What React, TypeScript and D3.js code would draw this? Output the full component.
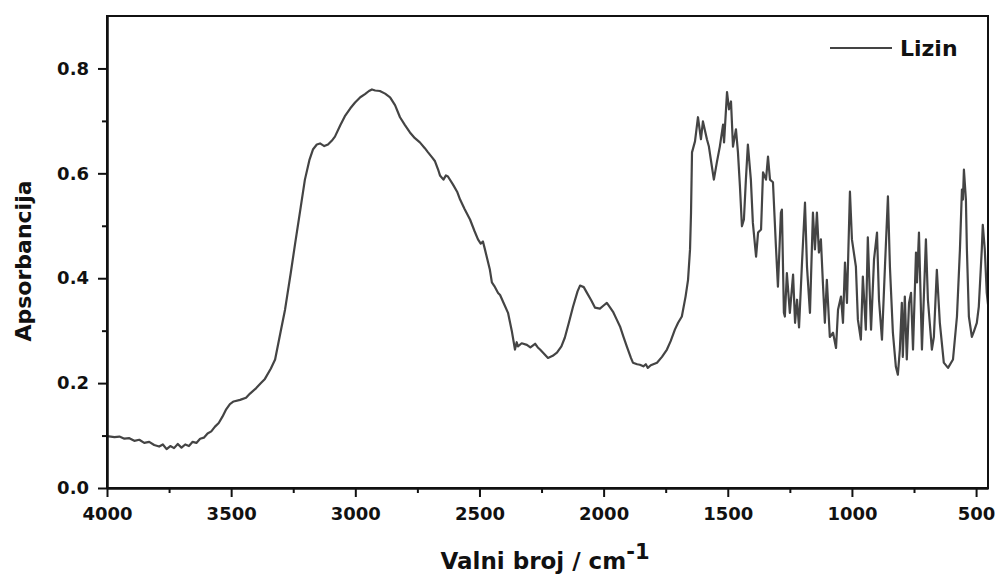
import { useEffect, useRef } from "react";
import * as d3 from "d3";

// spectrum (wavenumber cm-1 -> absorbance)
const wavenumbers = [
  4000, 3970, 3950, 3930, 3910, 3890, 3870, 3850, 3830, 3810, 3790, 3775, 3760, 3745, 3730, 3715, 3700, 3685,
  3670, 3655, 3640, 3625, 3610, 3595, 3580, 3565, 3550, 3535, 3520, 3505, 3490, 3464, 3440, 3424, 3400, 3380,
  3364, 3340, 3323, 3300, 3283, 3260, 3243, 3220, 3203, 3185, 3170, 3155, 3142, 3125, 3110, 3095, 3082, 3060,
  3042, 3020, 3001, 2980, 2961, 2945, 2933, 2920, 2901, 2880, 2860, 2840, 2820, 2800, 2780, 2760, 2740, 2720,
  2707, 2690, 2679, 2665, 2659, 2645, 2635, 2627, 2607, 2590, 2578, 2560, 2538, 2520, 2506, 2495, 2486, 2478,
  2458, 2450, 2440, 2425, 2417, 2400, 2385, 2370, 2357, 2350, 2345, 2330, 2309, 2295, 2276, 2265, 2256, 2240,
  2224, 2205, 2188, 2170, 2156, 2140, 2123, 2105, 2095, 2080, 2067, 2050, 2035, 2015, 2000, 1987, 1975, 1962,
  1948, 1934, 1920, 1906, 1890, 1882, 1865, 1854, 1840, 1830, 1822, 1810, 1800, 1785, 1765, 1745, 1730, 1713,
  1700, 1685, 1670, 1660, 1652, 1648, 1644, 1632, 1620, 1608, 1600, 1584, 1576, 1564, 1556, 1544, 1532, 1519,
  1515, 1503, 1495, 1487, 1479, 1467, 1459, 1451, 1443, 1435, 1427, 1419, 1407, 1399, 1386, 1378, 1366, 1358,
  1346, 1338, 1330, 1318, 1306, 1298, 1286, 1282, 1274, 1270, 1262, 1250, 1237, 1229, 1221, 1213, 1201, 1189,
  1181, 1169, 1157, 1149, 1141, 1133, 1125, 1117, 1109, 1101, 1089, 1076, 1064, 1056, 1044, 1036, 1028, 1020,
  1008, 1000, 984, 976, 964, 956, 944, 936, 923, 911, 899, 891, 879, 867, 855, 847, 835, 823, 815, 807, 799,
  795, 787, 779, 770, 762, 754, 742, 738, 730, 718, 702, 694, 678, 670, 658, 646, 630, 613, 593, 577, 565, 557,
  553, 549, 541, 537, 529, 517, 509, 497, 489, 477, 473, 465, 457, 452,
];
const absorbance = [
  0.099, 0.097, 0.098, 0.094, 0.095, 0.09, 0.092, 0.086, 0.088, 0.082, 0.079, 0.083, 0.074, 0.08, 0.076, 0.084,
  0.077, 0.083, 0.08, 0.088, 0.086, 0.094, 0.096, 0.104, 0.108, 0.117, 0.124, 0.136, 0.15, 0.16, 0.165, 0.168,
  0.172, 0.18, 0.19, 0.2, 0.208, 0.228, 0.245, 0.3, 0.34, 0.41, 0.464, 0.535, 0.588, 0.625, 0.646, 0.655, 0.657,
  0.652, 0.655, 0.662, 0.67, 0.692, 0.709, 0.724, 0.735, 0.745, 0.751, 0.757, 0.76, 0.758, 0.757, 0.752, 0.745,
  0.73, 0.707, 0.692, 0.678, 0.667, 0.659, 0.648, 0.64, 0.63, 0.623, 0.605, 0.596, 0.588, 0.596, 0.594, 0.579,
  0.565, 0.55, 0.532, 0.512, 0.49, 0.474, 0.466, 0.47, 0.455, 0.416, 0.392, 0.385, 0.372, 0.368, 0.35, 0.334,
  0.3, 0.264, 0.278, 0.27, 0.276, 0.273, 0.268, 0.275, 0.268, 0.264, 0.256, 0.248, 0.252, 0.258, 0.27, 0.287,
  0.315, 0.346, 0.375, 0.386, 0.383, 0.372, 0.358, 0.344, 0.342, 0.348, 0.353, 0.345, 0.336, 0.322, 0.308, 0.288,
  0.269, 0.248, 0.239, 0.236, 0.235, 0.232, 0.236, 0.229, 0.234, 0.236, 0.239, 0.25, 0.264, 0.28, 0.302, 0.315,
  0.327, 0.365, 0.397, 0.455, 0.525, 0.64, 0.661, 0.707, 0.665, 0.699, 0.665, 0.651, 0.613, 0.588, 0.621, 0.651,
  0.693, 0.659, 0.755, 0.722, 0.737, 0.651, 0.684, 0.64, 0.575, 0.499, 0.512, 0.588, 0.655, 0.588, 0.506, 0.441,
  0.487, 0.493, 0.602, 0.588, 0.632, 0.588, 0.583, 0.46, 0.384, 0.525, 0.531, 0.334, 0.327, 0.41, 0.334, 0.407,
  0.315, 0.359, 0.306, 0.43, 0.544, 0.422, 0.334, 0.525, 0.455, 0.525, 0.449, 0.474, 0.392, 0.315, 0.397, 0.288,
  0.296, 0.267, 0.34, 0.365, 0.315, 0.43, 0.353, 0.565, 0.474, 0.422, 0.321, 0.283, 0.403, 0.302, 0.478, 0.302,
  0.436, 0.487, 0.359, 0.283, 0.422, 0.556, 0.422, 0.296, 0.231, 0.216, 0.264, 0.353, 0.25, 0.365, 0.245, 0.353,
  0.372, 0.264, 0.449, 0.392, 0.487, 0.264, 0.474, 0.359, 0.264, 0.288, 0.416, 0.315, 0.239, 0.229, 0.245, 0.327,
  0.455, 0.569, 0.55, 0.607, 0.55, 0.455, 0.327, 0.288, 0.298, 0.315, 0.346, 0.455, 0.502, 0.455, 0.372, 0.35,
];

const xMajor = [4000, 3500, 3000, 2500, 2000, 1500, 1000, 500];
const xMinor = [3750, 3250, 2750, 2250, 1750, 1250, 750];
const yMajor = [0, 0.2, 0.4, 0.6, 0.8];
const yMinor = [0.1, 0.3, 0.5, 0.7];
const seriesName = "Lizin";

const FONT = "'DejaVu Sans', Verdana, sans-serif";

const App = () => {
  const svgRef = useRef<SVGSVGElement>(null);
  const width = 995;
  const height = 576;
  const margin = { top: 16, left: 107, bottom: 88, right: 7 };

  useEffect(() => {
    const svg = d3.select(svgRef.current);
    svg.selectAll("*").remove();

    const x = d3
      .scaleLinear()
      .domain([4000, 452])
      .range([margin.left, width - margin.right]);
    const y = d3
      .scaleLinear()
      .domain([0, 0.9])
      .range([height - margin.bottom, margin.top]);

    const data = wavenumbers.map((w, i) => ({ w, a: absorbance[i] }));

    svg
      .append("defs")
      .append("clipPath")
      .attr("id", "plot-clip")
      .append("rect")
      .attr("x", margin.left)
      .attr("y", margin.top)
      .attr("width", width - margin.left - margin.right)
      .attr("height", height - margin.top - margin.bottom);

    const line = d3
      .line<{ w: number; a: number }>()
      .x((d) => x(d.w))
      .y((d) => y(d.a));

    svg
      .append("path")
      .datum(data)
      .attr("clip-path", "url(#plot-clip)")
      .attr("fill", "none")
      .attr("stroke", "#444")
      .attr("stroke-width", 2.2)
      .attr("stroke-linejoin", "round")
      .attr("d", line);

    const bottom = height - margin.bottom;

    // frame
    svg
      .append("rect")
      .attr("x", margin.left)
      .attr("y", margin.top)
      .attr("width", width - margin.left - margin.right)
      .attr("height", height - margin.top - margin.bottom)
      .attr("fill", "none")
      .attr("stroke", "#111")
      .attr("stroke-width", 2);

    const gx = svg.append("g").attr("transform", `translate(0,${bottom})`);
    gx.call(
      d3
        .axisBottom(x)
        .tickValues(xMajor)
        .tickSize(9)
        .tickPadding(10)
        .tickSizeOuter(0)
        .tickFormat((d) => d3.format("d")(d as number))
    );
    const gxm = svg.append("g").attr("transform", `translate(0,${bottom})`);
    gxm.call(d3.axisBottom(x).tickValues(xMinor).tickSize(5).tickFormat(() => "").tickSizeOuter(0));

    const gy = svg.append("g").attr("transform", `translate(${margin.left},0)`);
    gy.call(
      d3
        .axisLeft(y)
        .tickValues(yMajor)
        .tickSize(9)
        .tickPadding(9)
        .tickSizeOuter(0)
        .tickFormat((d) => d3.format(".1f")(d as number))
    );
    const gym = svg.append("g").attr("transform", `translate(${margin.left},0)`);
    gym.call(d3.axisLeft(y).tickValues(yMinor).tickSize(5).tickFormat(() => "").tickSizeOuter(0));

    [gx, gxm, gy, gym].forEach((g) => {
      g.select(".domain").attr("stroke", "#111").attr("stroke-width", 2);
      g.selectAll(".tick line").attr("stroke", "#111").attr("stroke-width", 2);
      g.selectAll(".tick text")
        .attr("fill", "#111")
        .style("font-family", FONT)
        .style("font-size", "18px")
        .style("font-weight", "bold");
    });

    // axis titles
    const xt = svg
      .append("text")
      .attr("x", 545)
      .attr("y", 569)
      .attr("text-anchor", "middle")
      .style("font-family", FONT)
      .style("font-size", "23px")
      .style("font-weight", "bold")
      .attr("fill", "#111");
    xt.append("tspan").text("Valni broj / cm");
    xt.append("tspan").attr("dy", -10).style("font-size", "21px").text("-1");

    svg
      .append("text")
      .attr("transform", `translate(31,${(margin.top + bottom) / 2 + 9}) rotate(-90)`)
      .attr("text-anchor", "middle")
      .style("font-family", FONT)
      .style("font-size", "22px")
      .style("font-weight", "bold")
      .attr("fill", "#111")
      .text("Apsorbancija");

    // legend
    const lg = svg.append("g");
    lg.append("line")
      .attr("x1", 830)
      .attr("x2", 892)
      .attr("y1", 48)
      .attr("y2", 48)
      .attr("stroke", "#444")
      .attr("stroke-width", 2.2);
    lg.append("text")
      .attr("x", 900)
      .attr("y", 56)
      .style("font-family", FONT)
      .style("font-size", "22px")
      .style("font-weight", "bold")
      .attr("fill", "#111")
      .text(seriesName);
  }, []);

  return (
    <svg
      ref={svgRef}
      width={width}
      height={height}
      style={{ position: "absolute", left: 0, top: 0, background: "#fff" }}
    />
  );
};

export default App;
